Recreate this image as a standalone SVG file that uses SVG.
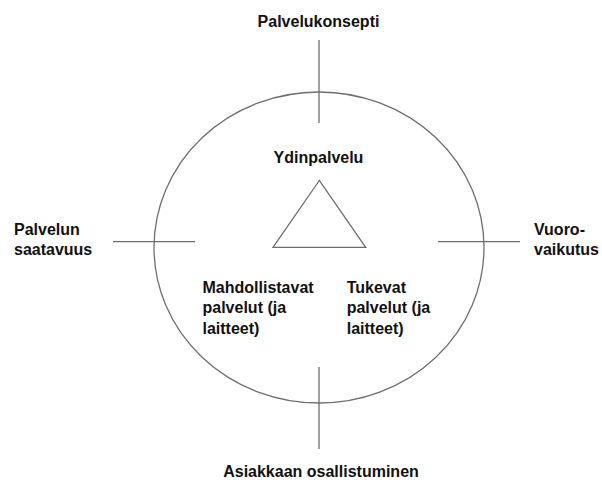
<svg xmlns="http://www.w3.org/2000/svg" width="602" height="482" viewBox="0 0 602 482">
  <style>
    .ln { stroke: #6e6e6e; stroke-width: 1.3; fill: none; }
    .lbl { font-family: "Liberation Sans", Arial, sans-serif; font-size: 16px; font-weight: bold; fill: #111; }
    .mid { text-anchor: middle; }
  </style>
  <rect width="602" height="482" fill="#fff"/>

  <!-- axis lines crossing the service circle -->
  <g id="connectors">
    <line class="ln" x1="319" y1="40" x2="319" y2="123"/>
    <line class="ln" x1="319" y1="367" x2="319" y2="449"/>
    <line class="ln" x1="113" y1="241.7" x2="195" y2="241.7"/>
    <line class="ln" x1="438" y1="241.7" x2="520" y2="241.7"/>
  </g>

  <g id="circle">
    <ellipse class="ln" cx="319" cy="247.5" rx="165" ry="155.5"/>
  </g>

  <g id="core-triangle">
    <polygon class="ln" points="319.3,180.5 273,247.3 365.7,247.3"/>
  </g>

  <g id="palvelukonsepti">
    <text class="lbl mid" x="318.5" y="26.5">Palvelukonsepti</text>
  </g>
  <g id="ydinpalvelu">
    <text class="lbl mid" x="318.5" y="162.5">Ydinpalvelu</text>
  </g>
  <g id="palvelun-saatavuus">
    <text class="lbl" x="14" y="235">Palvelun</text>
    <text class="lbl" x="14" y="255">saatavuus</text>
  </g>
  <g id="vuorovaikutus">
    <text class="lbl" x="534" y="235">Vuoro-</text>
    <text class="lbl" x="534" y="255">vaikutus</text>
  </g>
  <g id="mahdollistavat">
    <text class="lbl" x="202.5" y="292.5">Mahdollistavat</text>
    <text class="lbl" x="202.5" y="313">palvelut (ja</text>
    <text class="lbl" x="202.5" y="333.5">laitteet)</text>
  </g>
  <g id="tukevat">
    <text class="lbl" x="346.7" y="292.5">Tukevat</text>
    <text class="lbl" x="346.7" y="313">palvelut (ja</text>
    <text class="lbl" x="346.7" y="333.5">laitteet)</text>
  </g>
  <g id="asiakkaan-osallistuminen">
    <text class="lbl mid" x="321" y="477">Asiakkaan osallistuminen</text>
  </g>
</svg>
